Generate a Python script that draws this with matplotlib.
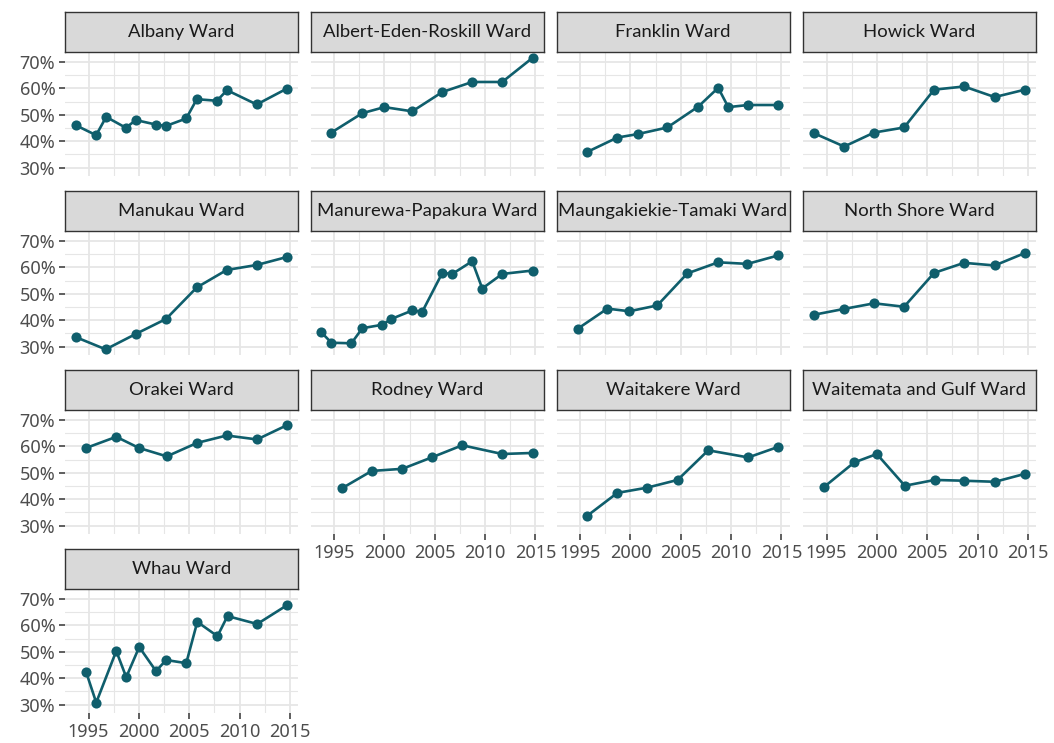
import matplotlib
matplotlib.use("Agg")
import matplotlib.pyplot as plt
from matplotlib.ticker import MultipleLocator
import numpy as np

# Turnout by ward over successive elections (decimal year, percent)
wards = [
    "Albany Ward", "Albert-Eden-Roskill Ward", "Franklin Ward", "Howick Ward",
    "Manukau Ward", "Manurewa-Papakura Ward", "Maungakiekie-Tamaki Ward", "North Shore Ward",
    "Orakei Ward", "Rodney Ward", "Waitakere Ward", "Waitemata and Gulf Ward",
    "Whau Ward",
]

albany_years = [1993.75, 1995.75, 1996.75, 1998.7, 1999.7, 2001.7, 2002.7, 2004.7,
                2005.75, 2007.75, 2008.75, 2011.7, 2014.7]
albany_turnout = [46.0, 42.3, 49.2, 45.1, 48.0, 46.3, 45.8, 48.6, 55.9, 55.3, 59.3, 53.9, 59.9]

aer_years = [1994.74, 1997.8, 2000.0, 2002.77, 2005.75, 2008.72, 2011.7, 2014.74]
aer_turnout = [43.3, 50.6, 52.9, 51.3, 58.6, 62.4, 62.4, 71.6]

franklin_years = [1995.73, 1998.7, 2000.72, 2003.66, 2006.74, 2008.72, 2009.72, 2011.7, 2014.68]
franklin_turnout = [36.0, 41.4, 42.7, 45.2, 53.1, 60.2, 52.9, 53.7, 53.7]

howick_years = [1993.71, 1996.75, 1999.73, 2002.7, 2005.68, 2008.66, 2011.7, 2014.7]
howick_turnout = [43.1, 38.0, 43.3, 45.2, 59.5, 60.7, 56.7, 59.5]

manukau_years = [1993.75, 1996.7, 1999.73, 2002.7, 2005.75, 2008.72, 2011.72, 2014.7]
manukau_turnout = [33.6, 29.0, 34.9, 40.5, 52.4, 59.0, 60.9, 63.9]

manurewa_years = [1993.74, 1994.74, 1996.72, 1997.81, 1999.8, 2000.69, 2002.77, 2003.76,
                  2005.75, 2006.74, 2008.72, 2009.72, 2011.7, 2014.74]
manurewa_turnout = [35.4, 31.5, 31.3, 37.0, 38.3, 40.5, 43.7, 43.2, 57.9, 57.5, 62.3, 52.0,
                    57.5, 58.8]

maungakiekie_years = [1994.77, 1997.71, 1999.89, 2002.67, 2005.65, 2008.72, 2011.63, 2014.68]
maungakiekie_turnout = [36.8, 44.4, 43.4, 45.6, 57.7, 61.9, 61.3, 64.5]

northshore_years = [1993.78, 1996.75, 1999.73, 2002.7, 2005.68, 2008.66, 2011.7, 2014.7]
northshore_turnout = [42.1, 44.3, 46.4, 45.1, 57.9, 61.7, 60.7, 65.4]

orakei_years = [1994.77, 1997.75, 2000.0, 2002.77, 2005.78, 2008.72, 2011.73, 2014.71]
orakei_turnout = [59.4, 63.6, 59.4, 56.2, 61.3, 64.1, 62.6, 68.0]

rodney_years = [1995.76, 1998.74, 2001.78, 2004.76, 2007.73, 2011.7, 2014.74]
rodney_turnout = [44.1, 50.7, 51.5, 55.9, 60.4, 57.1, 57.5]

waitakere_years = [1995.73, 1998.7, 2001.68, 2004.69, 2007.73, 2011.7, 2014.68]
waitakere_turnout = [33.8, 42.4, 44.4, 47.3, 58.5, 55.8, 59.8]

waitemata_years = [1994.77, 1997.74, 1999.99, 2002.77, 2005.75, 2008.66, 2011.73, 2014.7]
waitemata_turnout = [44.7, 53.9, 57.1, 45.1, 47.3, 47.0, 46.6, 49.6]

whau_years = [1994.77, 1995.76, 1997.75, 1998.74, 2000.03, 2001.7, 2002.7, 2004.7,
              2005.8, 2007.8, 2008.8, 2011.75, 2014.75]
whau_turnout = [42.2, 30.8, 50.3, 40.4, 51.8, 42.7, 46.9, 45.7, 61.3, 55.9, 63.5, 60.5, 67.7]

series = [
    (albany_years, albany_turnout), (aer_years, aer_turnout),
    (franklin_years, franklin_turnout), (howick_years, howick_turnout),
    (manukau_years, manukau_turnout), (manurewa_years, manurewa_turnout),
    (maungakiekie_years, maungakiekie_turnout), (northshore_years, northshore_turnout),
    (orakei_years, orakei_turnout), (rodney_years, rodney_turnout),
    (waitakere_years, waitakere_turnout), (waitemata_years, waitemata_turnout),
    (whau_years, whau_turnout),
]

y_ticks = [30, 40, 50, 60, 70]
x_ticks = [1995, 2000, 2005, 2010, 2015]

LINE_COLOR = "#0F5E6C"
GRID_COLOR = "#E6E6E6"
TEXT_COLOR = "#4D4D4D"

W, H = 1054, 743
fig = plt.figure(figsize=(W / 100, H / 100), dpi=100)
fig.patch.set_facecolor("white")

# shared scales with 5% padding, as in a faceted plot with fixed scales
all_x = np.concatenate([np.asarray(s[0]) for s in series])
all_y = np.concatenate([np.asarray(s[1]) for s in series])
xr = all_x.max() - all_x.min()
yr = all_y.max() - all_y.min()
xlim = (all_x.min() - 0.05 * xr, all_x.max() + 0.05 * xr)
ylim = (all_y.min() - 0.05 * yr, all_y.max() + 0.05 * yr)

ncol = 4
col_left = [65, 310.5, 556.5, 803]
panel_w = 233
row_top = [52, 231, 410, 589]
panel_h = 124
strip_h = 40

tick_font = dict(family=["Noto Sans", "DejaVu Sans"], size=13, color=TEXT_COLOR)

n = len(wards)
for i, (name, (xs, ys)) in enumerate(zip(wards, series)):
    r, c = divmod(i, ncol)
    left = col_left[c]
    top = row_top[r]
    ax = fig.add_axes([left / W, 1 - (top + panel_h) / H, panel_w / W, panel_h / H])
    ax.set_facecolor("white")
    ax.set_xlim(*xlim)
    ax.set_ylim(*ylim)
    ax.xaxis.set_major_locator(MultipleLocator(5))
    ax.xaxis.set_minor_locator(MultipleLocator(2.5))
    ax.yaxis.set_major_locator(MultipleLocator(10))
    ax.yaxis.set_minor_locator(MultipleLocator(5))
    ax.grid(which="major", color=GRID_COLOR, lw=1.3)
    ax.grid(which="minor", color=GRID_COLOR, lw=0.8)
    ax.set_axisbelow(True)
    for sp in ax.spines.values():
        sp.set_visible(False)

    ax.plot(xs, ys, color=LINE_COLOR, lw=1.9, marker="o", ms=7.3,
            markeredgewidth=0, zorder=3)

    ax.tick_params(which="minor", length=0)
    ax.tick_params(which="major", length=4, width=1.1, color="#333333", pad=3)

    # y axis labels only in the first column
    if c == 0:
        ax.set_yticks(y_ticks)
        ax.set_yticklabels([f"{v}%" for v in y_ticks], **tick_font)
    else:
        ax.tick_params(axis="y", which="both", length=0, left=False, labelleft=False)

    # x axis labels on the lowest panel of each column
    if i + ncol >= n:
        ax.set_xticks(x_ticks)
        ax.set_xticklabels([str(v) for v in x_ticks], **tick_font)
    else:
        ax.tick_params(axis="x", which="both", length=0, bottom=False, labelbottom=False)

    # facet strip
    sax = fig.add_axes([left / W, 1 - top / H, panel_w / W, strip_h / H])
    sax.set_facecolor("#D9D9D9")
    sax.set_xticks([])
    sax.set_yticks([])
    for sp in sax.spines.values():
        sp.set_color("#333333")
        sp.set_linewidth(1.0)
    sax.text(0.5, 0.5, name, ha="center", va="center", transform=sax.transAxes,
             family=["Lato", "DejaVu Sans"], size=13.3, color="#1A1A1A")

fig.savefig("out.png", dpi=100, facecolor="white")
